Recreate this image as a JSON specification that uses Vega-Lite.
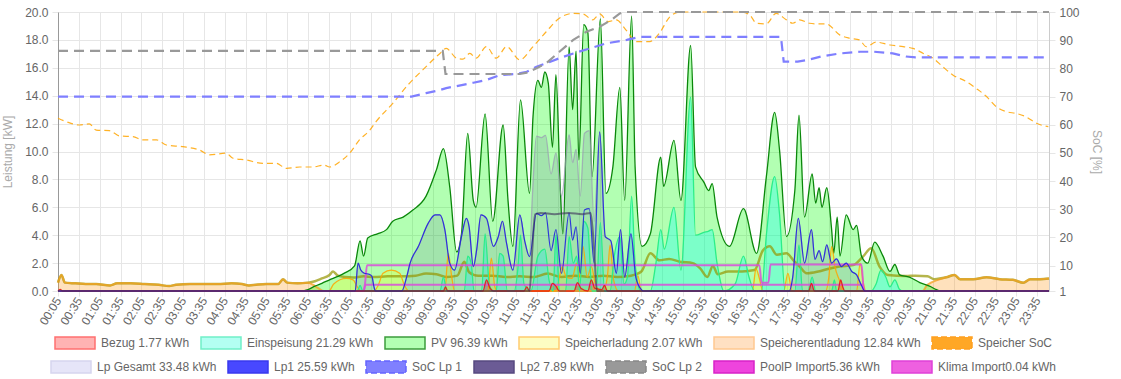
{
"$schema": "https://vega.github.io/schema/vega-lite/v6.json",
"width": 991, "height": 279,
"autosize": {"type": "none"},
"padding": {"left": 58, "top": 12, "right": 72, "bottom": 88},
"background": "white",
"datasets": {
"pv": [{"t":5,"v":0},{"t":355,"v":0},{"t":365,"v":0.1},{"t":375,"v":0.35},{"t":385,"v":0.55},{"t":396,"v":0.8},{"t":408,"v":1.05},{"t":418,"v":1.3},{"t":432,"v":1.8},{"t":440,"v":3.6},{"t":445,"v":2.5},{"t":451,"v":3.8},{"t":465,"v":4.1},{"t":478,"v":4.4},{"t":487,"v":5.0},{"t":502,"v":5.3},{"t":516,"v":5.8},{"t":535,"v":6.8},{"t":550,"v":8.7},{"t":560,"v":10.2},{"t":569,"v":7.5},{"t":579,"v":2.8},{"t":586,"v":4.1},{"t":595,"v":11.3},{"t":603,"v":6.5},{"t":607,"v":6.0},{"t":620,"v":12.7},{"t":631,"v":5.0},{"t":646,"v":11.9},{"t":653,"v":6.5},{"t":660,"v":3.2},{"t":671,"v":13.7},{"t":684,"v":7.0},{"t":689,"v":12.5},{"t":696,"v":15.1},{"t":701,"v":14.6},{"t":706,"v":15.7},{"t":711,"v":14.9},{"t":717,"v":10.3},{"t":722,"v":15.5},{"t":728,"v":7.7},{"t":732,"v":4.1},{"t":741,"v":17.5},{"t":746,"v":13.0},{"t":751,"v":17.2},{"t":755,"v":9.4},{"t":762,"v":19.1},{"t":768,"v":18.5},{"t":774,"v":8.2},{"t":786,"v":19.5},{"t":794,"v":7.0},{"t":804,"v":8.9},{"t":814,"v":14.6},{"t":821,"v":6.5},{"t":831,"v":19.7},{"t":836,"v":8.9},{"t":846,"v":3.2},{"t":858,"v":4.1},{"t":873,"v":9.6},{"t":877,"v":7.5},{"t":892,"v":10.8},{"t":902,"v":6.5},{"t":916,"v":17.6},{"t":923,"v":8.9},{"t":935,"v":7.8},{"t":942,"v":7.2},{"t":947,"v":7.7},{"t":954,"v":5.3},{"t":972,"v":3.2},{"t":992,"v":5.9},{"t":1011,"v":2.7},{"t":1025,"v":8.2},{"t":1037,"v":12.8},{"t":1044,"v":10.1},{"t":1054,"v":3.9},{"t":1066,"v":7.2},{"t":1072,"v":12.6},{"t":1080,"v":5.3},{"t":1091,"v":8.4},{"t":1096,"v":6.3},{"t":1101,"v":7.4},{"t":1105,"v":6.0},{"t":1112,"v":7.4},{"t":1119,"v":4.4},{"t":1122,"v":2.7},{"t":1127,"v":5.3},{"t":1131,"v":2.5},{"t":1140,"v":5.45},{"t":1150,"v":4.4},{"t":1155,"v":4.7},{"t":1162,"v":2.5},{"t":1171,"v":2.0},{"t":1181,"v":3.5},{"t":1193,"v":2.5},{"t":1203,"v":1.4},{"t":1210,"v":1.9},{"t":1217,"v":1.15},{"t":1231,"v":1.0},{"t":1246,"v":0.6},{"t":1260,"v":0.35},{"t":1270,"v":0.1},{"t":1276,"v":0},{"t":1432,"v":0}],
"entl": [{"t":5,"v":0.6},{"t":10,"v":1.15},{"t":15,"v":0.6},{"t":30,"v":0.55},{"t":45,"v":0.5},{"t":60,"v":0.5},{"t":80,"v":0.4},{"t":90,"v":0.55},{"t":110,"v":0.55},{"t":130,"v":0.5},{"t":150,"v":0.45},{"t":165,"v":0.35},{"t":175,"v":0.45},{"t":195,"v":0.5},{"t":215,"v":0.5},{"t":235,"v":0.5},{"t":255,"v":0.55},{"t":270,"v":0.5},{"t":280,"v":0.4},{"t":290,"v":0.45},{"t":305,"v":0.5},{"t":322,"v":0.5},{"t":329,"v":0.85},{"t":335,"v":0.6},{"t":350,"v":0.55},{"t":365,"v":0.6},{"t":372,"v":0.45},{"t":380,"v":0.2},{"t":388,"v":0},{"t":1250,"v":0},{"t":1256,"v":0.4},{"t":1262,"v":0.6},{"t":1272,"v":0.8},{"t":1284,"v":0.98},{"t":1296,"v":1.15},{"t":1304,"v":0.85},{"t":1323,"v":0.85},{"t":1342,"v":0.98},{"t":1361,"v":0.85},{"t":1380,"v":0.8},{"t":1395,"v":0.6},{"t":1405,"v":0.85},{"t":1419,"v":0.85},{"t":1432,"v":0.9}],
"haus": [{"t":5,"v":0.6},{"t":10,"v":1.15},{"t":15,"v":0.6},{"t":30,"v":0.55},{"t":45,"v":0.5},{"t":60,"v":0.5},{"t":80,"v":0.4},{"t":90,"v":0.55},{"t":110,"v":0.55},{"t":130,"v":0.5},{"t":150,"v":0.45},{"t":165,"v":0.35},{"t":175,"v":0.45},{"t":195,"v":0.5},{"t":215,"v":0.5},{"t":235,"v":0.5},{"t":255,"v":0.55},{"t":270,"v":0.5},{"t":280,"v":0.4},{"t":290,"v":0.45},{"t":305,"v":0.5},{"t":322,"v":0.5},{"t":329,"v":0.85},{"t":335,"v":0.6},{"t":350,"v":0.55},{"t":365,"v":0.6},{"t":375,"v":0.7},{"t":385,"v":0.9},{"t":396,"v":1.15},{"t":401,"v":1.4},{"t":408,"v":1.1},{"t":418,"v":1.0},{"t":430,"v":0.97},{"t":445,"v":1.05},{"t":460,"v":1.0},{"t":480,"v":1.05},{"t":500,"v":1.05},{"t":520,"v":1.1},{"t":535,"v":1.25},{"t":550,"v":1.2},{"t":565,"v":1.0},{"t":580,"v":1.1},{"t":590,"v":2.1},{"t":597,"v":1.35},{"t":610,"v":1.1},{"t":630,"v":1.1},{"t":650,"v":1.0},{"t":670,"v":1.05},{"t":690,"v":1.0},{"t":710,"v":1.25},{"t":730,"v":1.0},{"t":750,"v":1.1},{"t":770,"v":1.0},{"t":790,"v":1.1},{"t":810,"v":1.0},{"t":830,"v":1.1},{"t":845,"v":1.4},{"t":858,"v":2.7},{"t":871,"v":2.2},{"t":885,"v":2.3},{"t":900,"v":2.1},{"t":919,"v":2.0},{"t":930,"v":1.6},{"t":940,"v":1.0},{"t":948,"v":1.8},{"t":955,"v":1.2},{"t":970,"v":1.4},{"t":990,"v":1.4},{"t":1008,"v":1.5},{"t":1020,"v":2.9},{"t":1030,"v":3.2},{"t":1040,"v":2.6},{"t":1054,"v":2.7},{"t":1064,"v":2.2},{"t":1073,"v":1.75},{"t":1083,"v":1.27},{"t":1100,"v":1.4},{"t":1115,"v":1.6},{"t":1130,"v":1.75},{"t":1150,"v":1.86},{"t":1164,"v":2.46},{"t":1176,"v":3.06},{"t":1188,"v":1.75},{"t":1200,"v":1.15},{"t":1226,"v":1.07},{"t":1240,"v":1.1},{"t":1257,"v":1.05},{"t":1267,"v":0.85},{"t":1284,"v":0.98},{"t":1296,"v":1.15},{"t":1304,"v":0.85},{"t":1323,"v":0.85},{"t":1342,"v":0.98},{"t":1361,"v":0.85},{"t":1380,"v":0.8},{"t":1395,"v":0.6},{"t":1405,"v":0.85},{"t":1419,"v":0.85},{"t":1432,"v":0.9}],
"lad": [{"t":5,"v":0},{"t":395,"v":0},{"t":402,"v":0.5},{"t":420,"v":0.9},{"t":430,"v":0.8},{"t":436,"v":0.3},{"t":442,"v":0},{"t":460,"v":0},{"t":466,"v":0.4},{"t":473,"v":1.27},{"t":485,"v":1.5},{"t":497,"v":1.27},{"t":504,"v":0.4},{"t":510,"v":0},{"t":562,"v":0},{"t":567,"v":2.7},{"t":572,"v":1.0},{"t":576,"v":0},{"t":624,"v":0},{"t":629,"v":2.35},{"t":634,"v":0.3},{"t":638,"v":0},{"t":722,"v":0},{"t":727,"v":1.0},{"t":731,"v":1.75},{"t":737,"v":1.0},{"t":745,"v":0.9},{"t":752,"v":2.0},{"t":757,"v":1.0},{"t":761,"v":3.2},{"t":767,"v":1.0},{"t":773,"v":1.75},{"t":780,"v":0.3},{"t":790,"v":0},{"t":796,"v":1.0},{"t":800,"v":3.3},{"t":805,"v":0.8},{"t":812,"v":0},{"t":835,"v":0},{"t":840,"v":1.1},{"t":845,"v":0},{"t":1005,"v":0},{"t":1010,"v":1.6},{"t":1015,"v":0.9},{"t":1020,"v":0},{"t":1050,"v":0},{"t":1056,"v":1.27},{"t":1062,"v":0},{"t":1110,"v":0},{"t":1115,"v":1.0},{"t":1119,"v":3.2},{"t":1124,"v":1.7},{"t":1130,"v":0.8},{"t":1136,"v":0},{"t":1155,"v":0},{"t":1160,"v":2.0},{"t":1165,"v":0.5},{"t":1168,"v":0},{"t":1432,"v":0}],
"einsp": [{"t":5,"v":0},{"t":436,"v":0},{"t":440,"v":0.4},{"t":444,"v":0},{"t":555,"v":0},{"t":560,"v":1.0},{"t":565,"v":0},{"t":590,"v":0},{"t":595,"v":2.5},{"t":600,"v":2.0},{"t":604,"v":0},{"t":615,"v":0},{"t":620,"v":4.1},{"t":626,"v":0.5},{"t":631,"v":0},{"t":636,"v":0},{"t":641,"v":2.7},{"t":646,"v":2.5},{"t":652,"v":0},{"t":662,"v":0},{"t":667,"v":1.5},{"t":671,"v":4.0},{"t":676,"v":0.5},{"t":686,"v":0},{"t":696,"v":2.5},{"t":706,"v":3.0},{"t":712,"v":0.8},{"t":718,"v":0},{"t":722,"v":4.0},{"t":727,"v":0},{"t":736,"v":0},{"t":741,"v":3.9},{"t":747,"v":2.0},{"t":752,"v":2.5},{"t":756,"v":0},{"t":762,"v":5.0},{"t":768,"v":4.5},{"t":774,"v":0},{"t":780,"v":0},{"t":786,"v":4.9},{"t":792,"v":0},{"t":800,"v":0},{"t":806,"v":2.5},{"t":814,"v":3.9},{"t":820,"v":0.5},{"t":825,"v":1.0},{"t":831,"v":6.8},{"t":836,"v":2.0},{"t":844,"v":0},{"t":858,"v":0},{"t":866,"v":2.0},{"t":873,"v":4.4},{"t":878,"v":3.0},{"t":892,"v":6.0},{"t":902,"v":1.5},{"t":916,"v":13.9},{"t":923,"v":4.0},{"t":935,"v":4.2},{"t":942,"v":4.3},{"t":947,"v":4.4},{"t":954,"v":2.0},{"t":964,"v":0},{"t":980,"v":0.5},{"t":992,"v":2.5},{"t":1000,"v":1.0},{"t":1008,"v":0},{"t":1018,"v":0},{"t":1025,"v":4.0},{"t":1037,"v":8.2},{"t":1044,"v":5.5},{"t":1052,"v":0},{"t":1066,"v":0},{"t":1072,"v":3.3},{"t":1077,"v":0},{"t":1085,"v":0},{"t":1091,"v":1.0},{"t":1096,"v":0},{"t":1119,"v":0},{"t":1123,"v":0.8},{"t":1126,"v":0},{"t":1176,"v":0},{"t":1183,"v":0.5},{"t":1190,"v":1.5},{"t":1197,"v":1.0},{"t":1203,"v":0.3},{"t":1210,"v":0.8},{"t":1217,"v":0.1},{"t":1222,"v":0},{"t":1432,"v":0}],
"lpg": [{"t":5,"v":0},{"t":433,"v":0},{"t":437,"v":2.0},{"t":441,"v":1.5},{"t":446,"v":1.27},{"t":453,"v":1.2},{"t":457,"v":1.05},{"t":460,"v":0.3},{"t":462,"v":0},{"t":500,"v":0},{"t":507,"v":1.0},{"t":512,"v":2.0},{"t":524,"v":3.2},{"t":538,"v":4.85},{"t":548,"v":5.45},{"t":555,"v":5.45},{"t":562,"v":4.4},{"t":569,"v":2.0},{"t":576,"v":1.5},{"t":586,"v":3.9},{"t":593,"v":5.2},{"t":597,"v":4.6},{"t":603,"v":1.75},{"t":608,"v":3.0},{"t":614,"v":5.45},{"t":622,"v":5.2},{"t":632,"v":3.2},{"t":639,"v":3.9},{"t":645,"v":5.0},{"t":651,"v":3.4},{"t":660,"v":1.5},{"t":670,"v":5.45},{"t":677,"v":3.6},{"t":684,"v":2.46},{"t":688,"v":6.7},{"t":694,"v":11.1},{"t":701,"v":11.0},{"t":707,"v":11.15},{"t":715,"v":8.4},{"t":722,"v":9.9},{"t":730,"v":6.8},{"t":741,"v":11.2},{"t":746,"v":9.2},{"t":751,"v":10.15},{"t":757,"v":6.8},{"t":763,"v":11.3},{"t":770,"v":11.5},{"t":777,"v":5.0},{"t":785,"v":11.4},{"t":793,"v":3.9},{"t":801,"v":3.6},{"t":809,"v":1.27},{"t":815,"v":4.4},{"t":821,"v":1.0},{"t":830,"v":4.1},{"t":837,"v":1.0},{"t":845,"v":0.1},{"t":848,"v":0},{"t":1058,"v":0},{"t":1063,"v":1.0},{"t":1071,"v":5.2},{"t":1080,"v":2.0},{"t":1090,"v":4.4},{"t":1095,"v":2.27},{"t":1101,"v":2.9},{"t":1106,"v":2.1},{"t":1112,"v":3.3},{"t":1119,"v":2.0},{"t":1126,"v":2.3},{"t":1133,"v":1.75},{"t":1140,"v":2.0},{"t":1148,"v":1.4},{"t":1155,"v":1.15},{"t":1162,"v":0.4},{"t":1167,"v":0},{"t":1432,"v":0}],
"lp1": [{"t":5,"v":0},{"t":433,"v":0},{"t":437,"v":2.0},{"t":441,"v":1.5},{"t":446,"v":1.27},{"t":453,"v":1.2},{"t":457,"v":1.05},{"t":460,"v":0.3},{"t":462,"v":0},{"t":500,"v":0},{"t":507,"v":1.0},{"t":512,"v":2.0},{"t":524,"v":3.2},{"t":538,"v":4.85},{"t":548,"v":5.45},{"t":555,"v":5.45},{"t":562,"v":4.4},{"t":569,"v":2.0},{"t":576,"v":1.5},{"t":586,"v":3.9},{"t":593,"v":5.2},{"t":597,"v":4.6},{"t":603,"v":1.75},{"t":608,"v":3.0},{"t":614,"v":5.45},{"t":622,"v":5.2},{"t":632,"v":3.2},{"t":639,"v":3.9},{"t":645,"v":5.0},{"t":651,"v":3.4},{"t":660,"v":1.5},{"t":670,"v":5.45},{"t":677,"v":3.6},{"t":684,"v":2.46},{"t":694,"v":5.57},{"t":701,"v":5.4},{"t":707,"v":5.6},{"t":715,"v":2.9},{"t":722,"v":4.4},{"t":730,"v":1.27},{"t":741,"v":5.6},{"t":746,"v":3.65},{"t":751,"v":4.6},{"t":757,"v":1.27},{"t":763,"v":5.8},{"t":770,"v":5.9},{"t":777,"v":2.0},{"t":785,"v":11.4},{"t":793,"v":3.9},{"t":801,"v":3.6},{"t":809,"v":1.27},{"t":815,"v":4.4},{"t":821,"v":1.0},{"t":830,"v":4.1},{"t":837,"v":1.0},{"t":845,"v":0.1},{"t":848,"v":0},{"t":1058,"v":0},{"t":1063,"v":1.0},{"t":1071,"v":5.2},{"t":1080,"v":2.0},{"t":1090,"v":4.4},{"t":1095,"v":2.27},{"t":1101,"v":2.9},{"t":1106,"v":2.1},{"t":1112,"v":3.3},{"t":1119,"v":2.0},{"t":1126,"v":2.3},{"t":1133,"v":1.75},{"t":1140,"v":2.0},{"t":1148,"v":1.4},{"t":1155,"v":1.15},{"t":1162,"v":0.4},{"t":1167,"v":0},{"t":1432,"v":0}],
"lp2": [{"t":5,"v":0},{"t":684,"v":0},{"t":688,"v":3.0},{"t":692,"v":5.5},{"t":700,"v":5.6},{"t":720,"v":5.5},{"t":740,"v":5.6},{"t":760,"v":5.5},{"t":772,"v":5.6},{"t":777,"v":3.0},{"t":781,"v":0},{"t":1432,"v":0}],
"pool": [{"t":5,"v":0},{"t":445,"v":0},{"t":447,"v":0.5},{"t":450,"v":1.85},{"t":1015,"v":1.85},{"t":1018,"v":0.6},{"t":1028,"v":0.6},{"t":1031,"v":1.9},{"t":1162,"v":1.9},{"t":1165,"v":0.2},{"t":1167,"v":0},{"t":1432,"v":0}],
"klima": [{"t":5,"v":0},{"t":445,"v":0},{"t":448,"v":0.45},{"t":1163,"v":0.45},{"t":1166,"v":0},{"t":1432,"v":0}],
"bezug": [{"t":5,"v":0},{"t":8,"v":0.12},{"t":12,"v":0},{"t":560,"v":0},{"t":563,"v":0.3},{"t":566,"v":0},{"t":617,"v":0},{"t":622,"v":0.8},{"t":627,"v":0.2},{"t":632,"v":0},{"t":676,"v":0},{"t":680,"v":0.3},{"t":684,"v":0},{"t":712,"v":0},{"t":717,"v":0.55},{"t":722,"v":0.35},{"t":727,"v":0},{"t":748,"v":0},{"t":753,"v":0.6},{"t":758,"v":0.2},{"t":768,"v":0},{"t":773,"v":0.8},{"t":778,"v":0.2},{"t":788,"v":0.1},{"t":792,"v":0.4},{"t":796,"v":0},{"t":1086,"v":0},{"t":1090,"v":0.55},{"t":1094,"v":0},{"t":1128,"v":0},{"t":1132,"v":0.8},{"t":1135,"v":0.3},{"t":1138,"v":0},{"t":1432,"v":0}],
"ssoc": [{"t":5,"v":62.3},{"t":17,"v":61.1},{"t":36,"v":59.9},{"t":50,"v":60.3},{"t":60,"v":58.1},{"t":79,"v":57.9},{"t":94,"v":56},{"t":113,"v":55.8},{"t":127,"v":54.6},{"t":147,"v":54.6},{"t":161,"v":52.8},{"t":185,"v":52.2},{"t":209,"v":51},{"t":223,"v":49.3},{"t":247,"v":49.9},{"t":257,"v":48.1},{"t":276,"v":47.5},{"t":300,"v":46.3},{"t":319,"v":46.3},{"t":334,"v":44.5},{"t":353,"v":45},{"t":372,"v":45},{"t":388,"v":45.7},{"t":396,"v":45},{"t":411,"v":46.9},{"t":425,"v":49.9},{"t":439,"v":54.6},{"t":454,"v":58.1},{"t":463,"v":61.1},{"t":487,"v":67.6},{"t":511,"v":74.7},{"t":535,"v":80.6},{"t":555,"v":85.3},{"t":564,"v":87.1},{"t":579,"v":83.6},{"t":588,"v":83.3},{"t":598,"v":85.3},{"t":607,"v":83.6},{"t":622,"v":87.7},{"t":636,"v":83.6},{"t":651,"v":87.7},{"t":670,"v":83},{"t":689,"v":87.7},{"t":708,"v":93},{"t":727,"v":97.8},{"t":747,"v":99.5},{"t":761,"v":99.3},{"t":775,"v":97.2},{"t":785,"v":99.3},{"t":797,"v":96.6},{"t":809,"v":97.2},{"t":823,"v":93.6},{"t":838,"v":89.5},{"t":857,"v":89.5},{"t":871,"v":92.5},{"t":886,"v":98.3},{"t":900,"v":100},{"t":987,"v":100},{"t":1000,"v":99.2},{"t":1011,"v":96},{"t":1025,"v":95.8},{"t":1039,"v":99.5},{"t":1054,"v":97.2},{"t":1063,"v":96},{"t":1073,"v":97.2},{"t":1087,"v":96},{"t":1097,"v":95.8},{"t":1111,"v":95.8},{"t":1131,"v":91.8},{"t":1145,"v":90.7},{"t":1159,"v":90.1},{"t":1169,"v":87.7},{"t":1183,"v":89.3},{"t":1203,"v":88.3},{"t":1222,"v":87.7},{"t":1236,"v":87.1},{"t":1251,"v":85.3},{"t":1265,"v":83.6},{"t":1279,"v":80.6},{"t":1294,"v":77.6},{"t":1313,"v":75.3},{"t":1327,"v":72.9},{"t":1342,"v":70},{"t":1356,"v":66.4},{"t":1371,"v":64.6},{"t":1385,"v":64},{"t":1399,"v":62.8},{"t":1414,"v":60.5},{"t":1431,"v":59.3}],
"soc1": [{"t":5,"v":70},{"t":514,"v":70},{"t":535,"v":71.2},{"t":555,"v":72.3},{"t":564,"v":73},{"t":579,"v":73.7},{"t":603,"v":74.9},{"t":622,"v":75.9},{"t":641,"v":77.6},{"t":665,"v":78},{"t":680,"v":78.8},{"t":694,"v":80.6},{"t":708,"v":81.8},{"t":727,"v":83.6},{"t":747,"v":85.3},{"t":771,"v":87.1},{"t":795,"v":88.9},{"t":824,"v":90.1},{"t":843,"v":91.2},{"t":1046,"v":91.2},{"t":1050,"v":82.4},{"t":1070,"v":82.4},{"t":1085,"v":83},{"t":1104,"v":84.2},{"t":1131,"v":85.3},{"t":1160,"v":85.9},{"t":1180,"v":85.9},{"t":1207,"v":85.3},{"t":1226,"v":84.2},{"t":1240,"v":83.9},{"t":1432,"v":83.9}],
"soc2": [{"t":5,"v":86.2},{"t":559,"v":86.2},{"t":563,"v":78},{"t":670,"v":78},{"t":680,"v":78.5},{"t":694,"v":80},{"t":708,"v":81.8},{"t":727,"v":85.9},{"t":747,"v":90.1},{"t":766,"v":93},{"t":785,"v":94.8},{"t":802,"v":97.2},{"t":814,"v":99.5},{"t":820,"v":100},{"t":1432,"v":100}],
"leg1": [{"n":"Bezug 1.77 kWh"},{"n":"Einspeisung 21.29 kWh"},{"n":"PV 96.39 kWh"},{"n":"Speicherladung 2.07 kWh"},{"n":"Speicherentladung 12.84 kWh"},{"n":"Speicher SoC"}],
"leg2": [{"n":"Lp Gesamt 33.48 kWh"},{"n":"Lp1 25.59 kWh"},{"n":"SoC Lp 1"},{"n":"Lp2 7.89 kWh"},{"n":"SoC Lp 2"},{"n":"PoolP Import5.36 kWh"},{"n":"Klima Import0.04 kWh"}]
},
"encoding": {
"x": {"field": "t", "type": "quantitative", "scale": {"domain": [5, 1432], "nice": false, "zero": false},
 "axis": {"values": [5,35,65,95,125,155,185,215,245,275,305,335,365,395,425,455,485,515,545,575,605,635,665,695,725,755,785,815,845,875,905,935,965,995,1025,1055,1085,1115,1145,1175,1205,1235,1265,1295,1325,1355,1385,1415],
  "labelExpr": "timeFormat(datetime(2020,0,1,0,datum.value),'%H:%M')", "labelAngle": -58, "labelAlign": "right", "labelBaseline": "middle",
  "title": null, "grid": true, "tickSize": 5, "labelPadding": 2, "labelOverlap": false, "labelFlush": false, "labelBound": false, "labelSeparation": 0, "domainColor": "#888"}}
},
"layer": [
{
"encoding": {
"y": {"field": "v", "type": "quantitative", "scale": {"domain": [0, 20], "nice": false},
 "axis": {"values": [0,2,4,6,8,10,12,14,16,18,20], "format": ".1f", "title": "Leistung [kW]", "grid": true, "tickSize": 6, "labelPadding": 4, "titlePadding": 10, "domainColor": "#999"}}
},
"layer": [
{"data": {"name": "entl"}, "mark": {"type": "area", "interpolate": "monotone", "fill": "#ff9b20", "fillOpacity": 0.3}},
{"data": {"name": "pv"}, "mark": {"type": "area", "interpolate": "monotone", "fill": "#00ff00", "fillOpacity": 0.3}},
{"data": {"name": "lad"}, "mark": {"type": "area", "interpolate": "monotone", "fill": "#ffff00", "fillOpacity": 0.25}},
{"data": {"name": "einsp"}, "mark": {"type": "area", "interpolate": "monotone", "fill": "#00ffff", "fillOpacity": 0.3}},
{"data": {"name": "lpg"}, "mark": {"type": "area", "interpolate": "monotone", "fill": "#4b4b8c", "fillOpacity": 0.15}},
{"data": {"name": "bezug"}, "mark": {"type": "area", "interpolate": "monotone", "fill": "#ff0000", "fillOpacity": 0.3}},
{"data": {"name": "haus"}, "mark": {"type": "line", "interpolate": "monotone", "stroke": "#969600", "strokeOpacity": 0.7, "strokeWidth": 2.5}},
{"data": {"name": "entl"}, "mark": {"type": "line", "interpolate": "monotone", "stroke": "#f5a020", "strokeOpacity": 0.75, "strokeWidth": 2}},
{"data": {"name": "pv"}, "mark": {"type": "line", "interpolate": "monotone", "stroke": "#0a870a", "strokeWidth": 1.3}},
{"data": {"name": "lad"}, "mark": {"type": "line", "interpolate": "monotone", "stroke": "#ffa500", "strokeOpacity": 0.85, "strokeWidth": 1.3}},
{"data": {"name": "einsp"}, "mark": {"type": "line", "interpolate": "monotone", "stroke": "#2bee88", "strokeWidth": 1.3}},
{"data": {"name": "lpg"}, "mark": {"type": "line", "interpolate": "monotone", "stroke": "#9a9ab4", "strokeOpacity": 0.7, "strokeWidth": 1.3}},
{"data": {"name": "klima"}, "mark": {"type": "line", "interpolate": "monotone", "stroke": "#d94fd9", "strokeOpacity": 0.85, "strokeWidth": 2}},
{"data": {"name": "pool"}, "mark": {"type": "line", "interpolate": "monotone", "stroke": "#d94fd9", "strokeOpacity": 0.85, "strokeWidth": 2}},
{"data": {"name": "bezug"}, "mark": {"type": "line", "interpolate": "monotone", "stroke": "#e81010", "strokeOpacity": 0.85, "strokeWidth": 1.3}},
{"data": {"name": "lp1"}, "mark": {"type": "line", "interpolate": "monotone", "stroke": "#1a1ae0", "strokeOpacity": 0.85, "strokeWidth": 1.2}},
{"data": {"name": "lp2"}, "mark": {"type": "line", "interpolate": "monotone", "stroke": "#3a2e58", "strokeOpacity": 0.6, "strokeWidth": 2}},
{"data": {"name": "leg1"}, "transform": [{"filter": "false"}], "mark": {"type": "point", "filled": true},
 "encoding": {
  "fill": {"field": "n", "type": "nominal", "scale": {"domain": ["Bezug 1.77 kWh","Einspeisung 21.29 kWh","PV 96.39 kWh","Speicherladung 2.07 kWh","Speicherentladung 12.84 kWh","Speicher SoC"], "range": ["#ffb3b3","#b3fff2","#b3ffb3","#fdfdc2","#ffe0c2","#ffa726"]}, "legend": {"title": null, "orient": "bottom", "direction": "horizontal"}},
  "stroke": {"field": "n", "type": "nominal", "scale": {"domain": ["Bezug 1.77 kWh","Einspeisung 21.29 kWh","PV 96.39 kWh","Speicherladung 2.07 kWh","Speicherentladung 12.84 kWh","Speicher SoC"], "range": ["#ff7070","#70f0c8","#3c9c3c","#ffcc70","#ffc890","#ffa020"]}, "legend": {"title": null, "orient": "bottom", "direction": "horizontal"}},
  "strokeDash": {"field": "n", "type": "nominal", "scale": {"domain": ["Bezug 1.77 kWh","Einspeisung 21.29 kWh","PV 96.39 kWh","Speicherladung 2.07 kWh","Speicherentladung 12.84 kWh","Speicher SoC"], "range": [[1,0],[1,0],[1,0],[1,0],[1,0],[6,3]]}, "legend": {"title": null, "orient": "bottom", "direction": "horizontal"}}
 }}
]
},
{
"encoding": {
"y": {"field": "v", "type": "quantitative", "scale": {"domain": [1, 100], "nice": false, "zero": false},
 "axis": {"orient": "right", "values": [1,10,20,30,40,50,60,70,80,90,100], "title": "SoC [%]", "grid": false, "tickSize": 6, "labelPadding": 4, "titlePadding": 10, "domainColor": "#ccc"}}
},
"layer": [
{"data": {"name": "ssoc"}, "mark": {"type": "line", "interpolate": "monotone", "stroke": "#ffa500", "strokeOpacity": 0.85, "strokeWidth": 1.2, "strokeDash": [6, 4]}},
{"data": {"name": "soc1"}, "mark": {"type": "line", "interpolate": "linear", "stroke": "#7f7fff", "strokeWidth": 2.2, "strokeDash": [10, 6]}},
{"data": {"name": "soc2"}, "mark": {"type": "line", "interpolate": "linear", "stroke": "#999999", "strokeWidth": 2.2, "strokeDash": [10, 6]}},
{"data": {"name": "leg2"}, "transform": [{"filter": "false"}], "mark": {"type": "point", "filled": true},
 "encoding": {
  "fill": {"field": "n", "type": "nominal", "scale": {"domain": ["Lp Gesamt 33.48 kWh","Lp1 25.59 kWh","SoC Lp 1","Lp2 7.89 kWh","SoC Lp 2","PoolP Import5.36 kWh","Klima Import0.04 kWh"], "range": ["#e6e5f8","#4848ff","#8080ff","#6b5b95","#999999","#ee44dd","#ee60e0"]}, "legend": {"title": null, "orient": "bottom", "direction": "horizontal"}},
  "stroke": {"field": "n", "type": "nominal", "scale": {"domain": ["Lp Gesamt 33.48 kWh","Lp1 25.59 kWh","SoC Lp 1","Lp2 7.89 kWh","SoC Lp 2","PoolP Import5.36 kWh","Klima Import0.04 kWh"], "range": ["#d6d5ee","#3838ee","#6464ff","#574a80","#888888","#d822c8","#e040d8"]}, "legend": {"title": null, "orient": "bottom", "direction": "horizontal"}},
  "strokeDash": {"field": "n", "type": "nominal", "scale": {"domain": ["Lp Gesamt 33.48 kWh","Lp1 25.59 kWh","SoC Lp 1","Lp2 7.89 kWh","SoC Lp 2","PoolP Import5.36 kWh","Klima Import0.04 kWh"], "range": [[1,0],[1,0],[6,3],[1,0],[6,3],[1,0],[1,0]]}, "legend": {"title": null, "orient": "bottom", "direction": "horizontal"}}
 }}
]
}
],
"resolve": {"scale": {"y": "independent", "fill": "independent", "stroke": "independent", "strokeDash": "independent"}},
"config": {
"font": "Liberation Sans",
"view": {"stroke": "#e6e6e6"},
"axis": {"labelFont": "Liberation Sans", "labelFontSize": 12, "labelColor": "#666666", "titleFont": "Liberation Sans", "titleFontSize": 12, "titleFontWeight": "normal", "titleColor": "#aaaaaa", "gridColor": "#e6e6e6", "tickColor": "#e6e6e6"},
"legend": {"orient": "bottom", "direction": "horizontal", "symbolType": "M-1,-1H5.667V1H-1Z", "symbolSize": 144, "symbolStrokeWidth": 1.5, "symbolOpacity": 1, "labelFont": "Liberation Sans", "labelFontSize": 12, "labelColor": "#666666", "labelLimit": 400, "labelOffset": 33, "columnPadding": 8, "padding": 0, "offset": 9, "layout": {"bottom": {"anchor": "middle", "direction": "vertical", "center": true, "margin": 8}}}
}
}
